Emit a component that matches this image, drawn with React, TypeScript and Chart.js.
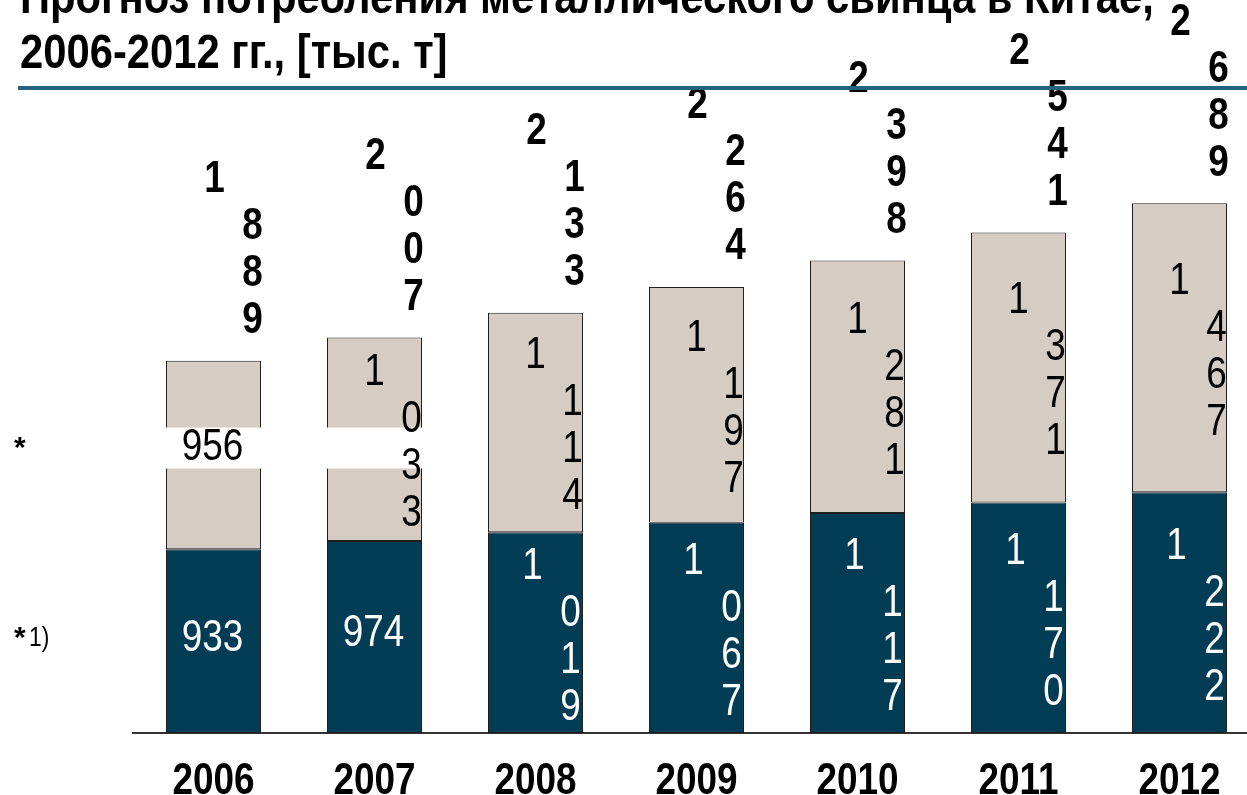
import React, { useEffect, useRef } from 'react';
import { Chart, registerables } from 'chart.js';

Chart.register(...registerables);

// ---- data ----
const categories = ['2006', '2007', '2008', '2009', '2010', '2011', '2012'];
const baseValues = [933, 974, 1019, 1067, 1117, 1170, 1222];
const topValues = [956, 1033, 1114, 1197, 1281, 1371, 1467];
const totals = [1889, 2007, 2133, 2264, 2398, 2541, 2689];
const titleLines = ['Прогноз потребления металлического свинца в Китае,', '2006-2012 гг., [тыс. т]'];
const sideLabels = ['*', '*'];
const sideNote = '1)';

const W = 1270;
const H = 800;
const SANS = '"Liberation Sans", Arial, sans-serif';
const NARROW_X = 0.82; // horizontal condensing to imitate a narrow face
const TITLE_X = 0.87;
const DARK = '#033d55';
const GRAY = '#d5ccc4';
const LINE_H = 47;

function narrowText(ctx: CanvasRenderingContext2D, text: string, x: number, y: number, sx = NARROW_X) {
  ctx.save();
  ctx.translate(x, y);
  ctx.scale(sx, 1);
  ctx.fillText(text, 0, 0);
  ctx.restore();
}

function splitDigits(v: number): string[] {
  const s = String(v);
  if (s.length <= 3) return [s];
  return [s[0], ...s.slice(1).split('')];
}

function drawBlock(
  ctx: CanvasRenderingContext2D,
  value: number,
  cx: number,
  cy: number,
  anchor: 'center' | 'above',
  firstDx: number,
  restDx: number,
  singleDy: number,
) {
  const lines = splitDigits(value);
  if (lines.length === 1) {
    narrowText(ctx, lines[0], cx - 1, cy + singleDy);
    return;
  }
  const n = lines.length;
  const y0 = anchor === 'center' ? cy + 4 - ((n - 1) * LINE_H) / 2 : cy - 40 - (n - 1) * LINE_H;
  lines.forEach((t, i) => {
    const x = i === 0 ? cx + firstDx : cx + restDx;
    narrowText(ctx, t, x, y0 + i * LINE_H);
  });
}

const TOP_DY = -7;
const BASE_DY = -3;

const labelPlugin = {
  id: 'customLabels',
  afterDatasetsDraw(chart: any) {
    const ctx: CanvasRenderingContext2D = chart.ctx;
    const baseBars = chart.getDatasetMeta(0).data;
    const topBars = chart.getDatasetMeta(1).data;
    ctx.save();
    ctx.textAlign = 'center';
    ctx.textBaseline = 'middle';

    // white label box behind the first upper-segment label
    const b0 = topBars[0];
    const b1 = topBars[1];
    const bandY = (b0.y + b0.base) / 2 + TOP_DY;
    const left = b0.x - b0.width / 2 - 1;
    const right = b1.x + b1.width / 2 + 1;
    ctx.fillStyle = '#ffffff';
    ctx.fillRect(left, bandY - 20.5, right - left, 41);

    // upper segment labels
    ctx.font = `45px ${SANS}`;
    ctx.fillStyle = '#000000';
    topBars.forEach((bar: any, i: number) => {
      drawBlock(ctx, topValues[i], bar.x, (bar.y + bar.base) / 2, 'center', 0, 37, TOP_DY);
    });

    // lower segment labels
    ctx.fillStyle = '#ffffff';
    baseBars.forEach((bar: any, i: number) => {
      drawBlock(ctx, baseValues[i], bar.x, (bar.y + bar.base) / 2, 'center', -3, 35, BASE_DY);
    });

    // totals
    ctx.font = `bold 45px ${SANS}`;
    ctx.fillStyle = '#000000';
    topBars.forEach((bar: any, i: number) => {
      drawBlock(ctx, totals[i], bar.x, bar.y, 'above', 1, 39, -40);
    });
    ctx.restore();
  },
  afterDraw(chart: any) {
    const ctx: CanvasRenderingContext2D = chart.ctx;
    ctx.save();
    // category tick labels, placed by the x scale
    const xs = chart.scales.x;
    ctx.fillStyle = '#000000';
    ctx.textAlign = 'center';
    ctx.textBaseline = 'alphabetic';
    ctx.font = `bold 45px ${SANS}`;
    xs.ticks.forEach((_t: any, i: number) => {
      narrowText(ctx, String(xs.getLabelForValue(i)), xs.getPixelForTick(i), xs.bottom + 61);
    });

    // title
    ctx.textAlign = 'left';
    ctx.font = `bold 48px ${SANS}`;
    narrowText(ctx, titleLines[0], 20, 13, TITLE_X);
    narrowText(ctx, titleLines[1], 20, 68, TITLE_X);
    // rule under title
    ctx.fillStyle = '#26627f';
    ctx.fillRect(18, 86, W, 4);
    // side markers
    const baseBars = chart.getDatasetMeta(0).data;
    const topBars = chart.getDatasetMeta(1).data;
    ctx.fillStyle = '#000000';
    ctx.font = `bold 30px ${SANS}`;
    const yTop = (topBars[0].y + topBars[0].base) / 2 + TOP_DY;
    const yBase = (baseBars[0].y + baseBars[0].base) / 2 + BASE_DY;
    ctx.fillText(sideLabels[0], 14, yTop + 9);
    ctx.fillText(sideLabels[1], 14, yBase + 9);
    ctx.font = `28px ${SANS}`;
    narrowText(ctx, sideNote, 29, yBase + 8);
    ctx.restore();
  },
};

export default function App() {
  const canvasRef = useRef<HTMLCanvasElement | null>(null);

  useEffect(() => {
    if (!canvasRef.current) return;
    const chart = new Chart(canvasRef.current, {
      type: 'bar',
      data: {
        labels: categories,
        datasets: [
          {
            label: 'base',
            data: baseValues,
            backgroundColor: DARK,
            borderColor: '#1e1e1e',
            borderWidth: 1,
            borderSkipped: false,
            barPercentage: 0.59,
            categoryPercentage: 1,
          },
          {
            label: 'top',
            data: topValues,
            backgroundColor: GRAY,
            borderColor: '#1e1e1e',
            borderWidth: 1,
            borderSkipped: false,
            barPercentage: 0.59,
            categoryPercentage: 1,
          },
        ],
      },
      options: {
        responsive: false,
        animation: false,
        layout: { padding: { left: 133, right: W - 1260, top: 142, bottom: 67 } },
        plugins: {
          legend: { display: false },
          tooltip: { enabled: false },
          title: { display: false },
        },
        scales: {
          x: {
            stacked: true,
            grid: { display: false, drawTicks: false },
            border: { display: true, color: '#333333', width: 2 },
            ticks: { display: false },
          },
          y: {
            stacked: true,
            display: false,
            min: 0,
            max: 3000,
          },
        },
      },
      plugins: [labelPlugin],
    });
    return () => chart.destroy();
  }, []);

  return (
    <div style={{ position: 'absolute', left: 0, top: 0, width: 1247, height: 795, overflow: 'hidden', background: '#fff' }}>
      <canvas ref={canvasRef} width={W} height={H} style={{ width: W, height: H, display: 'block' }} />
    </div>
  );
}
